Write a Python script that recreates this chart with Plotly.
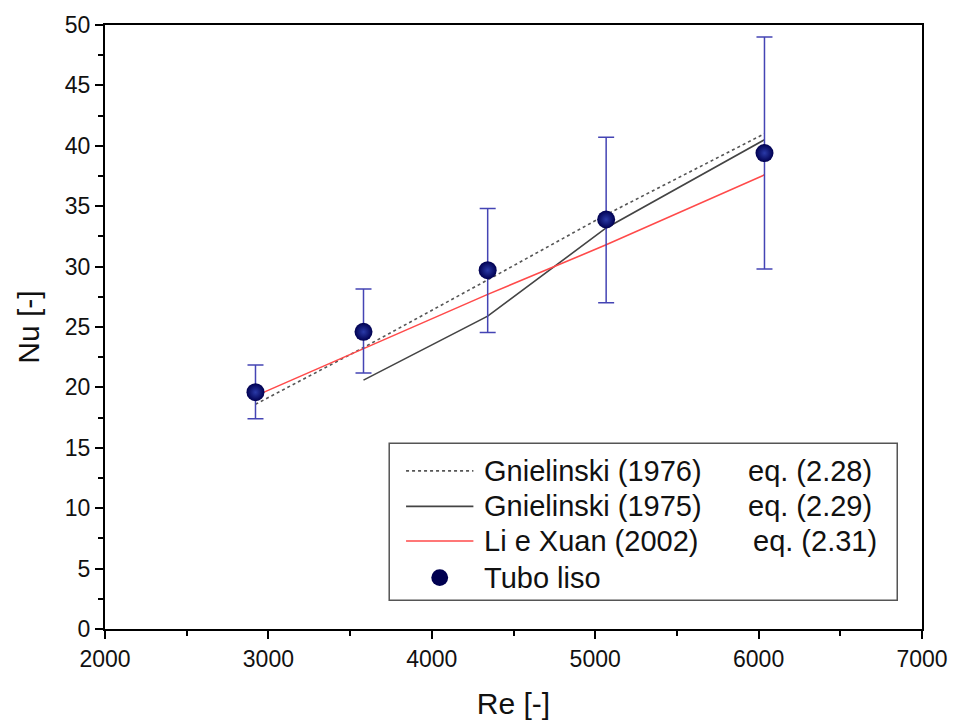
import plotly.graph_objects as go

# Data
re_exp = [2921, 3582, 4342, 5067, 6036]
nu_exp = [19.6, 24.6, 29.7, 33.9, 39.4]
err_plus = [2.25, 3.55, 5.1, 6.8, 9.6]
err_minus = [2.2, 3.4, 5.15, 6.9, 9.6]

re_g76 = [2921, 3582, 4342, 5067, 6036]
nu_g76 = [18.6, 23.3, 28.9, 34.3, 41.0]

re_g75 = [3582, 4342, 5067, 6036]
nu_g75 = [20.6, 25.9, 33.2, 40.5]

re_li = [2921, 3582, 4342, 5067, 6036]
nu_li = [19.3, 23.2, 27.7, 31.8, 37.6]

legend_names = ["Gnielinski (1976)", "Gnielinski (1975)", "Li e Xuan (2002)", "Tubo liso"]
legend_eqs = ["eq. (2.28)", "eq. (2.29)", "eq. (2.31)", ""]

FONT = "Liberation Sans, Arial"
C_DOT = "#555555"
C_G75 = "#444444"
C_LI = "#ff4a4a"
C_MK = "#000050"

fig = go.Figure()
fig.add_trace(go.Scatter(x=re_g76, y=nu_g76, mode="lines", name=legend_names[0],
                         showlegend=False,
                         line=dict(color=C_DOT, width=1.6, dash="dot")))
fig.add_trace(go.Scatter(x=re_g75, y=nu_g75, mode="lines", name=legend_names[1],
                         showlegend=False,
                         line=dict(color=C_G75, width=1.6)))
fig.add_trace(go.Scatter(x=re_li, y=nu_li, mode="lines", name=legend_names[2],
                         showlegend=False,
                         line=dict(color=C_LI, width=1.6)))
fig.add_trace(go.Scatter(
    x=re_exp, y=nu_exp, mode="markers", name=legend_names[3], showlegend=False,
    marker=dict(size=18, color=C_MK,
                gradient=dict(type="radial", color="#2a3aa8"),
                line=dict(width=0)),
    error_y=dict(type="data", symmetric=False, array=err_plus, arrayminus=err_minus,
                 color="#4444b4", thickness=1.5, width=8),
))

axis_common = dict(
    showgrid=False, zeroline=False, showline=True, linecolor="black", linewidth=2,
    mirror=True, ticks="outside", ticklen=8, tickwidth=2, tickcolor="black",
    tickfont=dict(family=FONT, size=23, color="#111111"),
)

fig.update_xaxes(
    range=[2000, 7000], dtick=1000, tick0=2000,
    minor=dict(dtick=500, ticks="outside", ticklen=5, tickwidth=2, tickcolor="black"),
    title=dict(text="Re [-]", font=dict(family=FONT, size=30, color="#111111"),
               standoff=22),
    **axis_common,
)
fig.update_yaxes(
    range=[0, 50], dtick=5, tick0=0,
    minor=dict(dtick=2.5, ticks="outside", ticklen=5, tickwidth=2, tickcolor="black"),
    title=dict(text="Nu [-]", font=dict(family=FONT, size=30, color="#111111"),
               standoff=16),
    **axis_common,
)

# ---- custom legend (box, samples, texts) in paper coordinates ----
L = 105.0
R = 930.0
T = 21.0
B = 632.0
W = R - L
H = B - T

def px(X):
    return (X - L) / W

def py(Y):
    return (B - Y) / H

shapes = [dict(type="rect", xref="paper", yref="paper",
               x0=px(392), x1=px(905), y0=py(603), y1=py(444),
               line=dict(color="#555555", width=1.5), fillcolor="white", layer="above")]
row_y = [472, 508, 543, 580]
sample_styles = [dict(color=C_DOT, width=1.6, dash="dot"),
                 dict(color=C_G75, width=1.6),
                 dict(color=C_LI, width=1.6)]
for yy, st in zip(row_y[:3], sample_styles):
    shapes.append(dict(type="line", xref="paper", yref="paper",
                       x0=px(409), x1=px(477), y0=py(yy), y1=py(yy),
                       line=st, layer="above"))
r = 8.5
shapes.append(dict(type="circle", xref="paper", yref="paper",
                   x0=px(443 - r), x1=px(443 + r), y0=py(row_y[3] + r), y1=py(row_y[3] - r),
                   fillcolor=C_MK, line=dict(color=C_MK, width=0), layer="above"))

annotations = []
eq_x = [752, 752, 757]
for i, (nm, yy) in enumerate(zip(legend_names, row_y)):
    annotations.append(dict(xref="paper", yref="paper", x=px(486), y=py(yy),
                            text=nm, showarrow=False, xanchor="left", yanchor="middle",
                            font=dict(family=FONT, size=29, color="#111111")))
    if legend_eqs[i]:
        annotations.append(dict(xref="paper", yref="paper", x=px(eq_x[i]), y=py(yy),
                                text=legend_eqs[i], showarrow=False, xanchor="left",
                                yanchor="middle",
                                font=dict(family=FONT, size=29, color="#111111")))

fig.update_layout(
    width=960, height=727,
    margin=dict(l=105, r=30, t=21, b=95),
    paper_bgcolor="white", plot_bgcolor="white",
    showlegend=False,
    shapes=shapes, annotations=annotations,
)

fig.write_html("out.html")
